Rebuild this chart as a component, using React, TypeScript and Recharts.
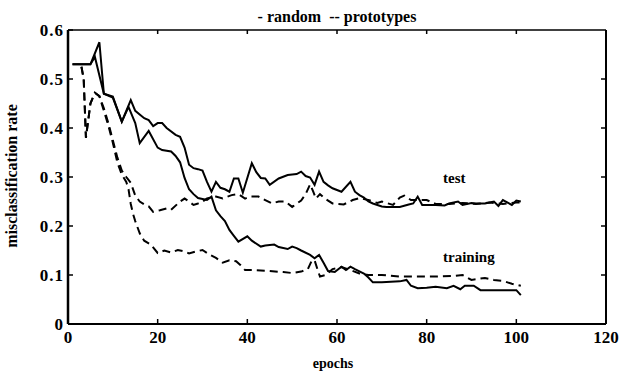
import React from 'react';
import { LineChart, Line, XAxis, YAxis } from 'recharts';

// ---- data ----
const randomTestEpochs = [1, 5, 7, 8, 10, 12, 14, 15, 17, 18, 19, 20, 21, 22, 24, 25, 26, 27, 28, 29, 30, 31, 32, 33, 34, 35, 36, 37, 38, 39, 41, 42, 43, 44, 45, 47, 49, 50, 51, 52, 53, 54, 55, 56, 57, 58, 59, 61, 63, 64, 65, 66, 67, 68, 70, 71, 74, 76, 77, 78, 79, 82, 84, 85, 87, 88, 90, 91, 93, 95, 96, 97, 99, 100, 101];
const randomTestRates = [0.53, 0.53, 0.575, 0.47, 0.464, 0.413, 0.457, 0.435, 0.42, 0.416, 0.404, 0.41, 0.41, 0.4, 0.386, 0.382, 0.36, 0.325, 0.318, 0.316, 0.313, 0.29, 0.27, 0.29, 0.278, 0.275, 0.27, 0.297, 0.297, 0.268, 0.328, 0.31, 0.298, 0.297, 0.284, 0.297, 0.304, 0.305, 0.306, 0.311, 0.302, 0.299, 0.284, 0.311, 0.29, 0.283, 0.277, 0.27, 0.29, 0.27, 0.263, 0.258, 0.25, 0.246, 0.24, 0.239, 0.239, 0.244, 0.246, 0.26, 0.243, 0.243, 0.242, 0.246, 0.25, 0.243, 0.247, 0.246, 0.246, 0.25, 0.241, 0.253, 0.243, 0.252, 0.25];

const randomTrainEpochs = [1, 5, 6, 8, 10, 12, 13.5, 15, 16, 18, 20, 21, 23, 24, 25, 26, 27, 28, 29, 30, 31, 32, 33, 34, 35, 36, 37, 38, 40, 41, 43, 44, 46, 47, 49, 50, 51, 52, 54, 55, 56, 57, 58, 59.5, 61, 62, 63, 64, 66, 67, 68, 70, 74, 75.5, 76.5, 78, 80, 82, 84.5, 86, 87.5, 88.5, 90.5, 92, 99, 100, 101];
const randomTrainRates = [0.53, 0.53, 0.545, 0.47, 0.462, 0.413, 0.443, 0.41, 0.369, 0.394, 0.36, 0.355, 0.352, 0.343, 0.33, 0.298, 0.275, 0.265, 0.257, 0.255, 0.253, 0.26, 0.232, 0.22, 0.21, 0.192, 0.18, 0.168, 0.179, 0.17, 0.158, 0.16, 0.162, 0.157, 0.153, 0.158, 0.155, 0.15, 0.141, 0.134, 0.141, 0.125, 0.108, 0.106, 0.117, 0.11, 0.117, 0.112, 0.103, 0.095, 0.085, 0.085, 0.087, 0.09, 0.078, 0.073, 0.074, 0.076, 0.073, 0.078, 0.071, 0.078, 0.078, 0.069, 0.069, 0.069, 0.059];

const protoTestEpochs = [3, 3.5, 4, 5, 6, 7, 8, 9, 10, 11, 12, 13, 14, 15, 16, 17, 18, 19, 20.5, 22, 23, 25, 26, 27, 28, 29, 30, 31, 33, 34.5, 36.5, 38, 39.5, 40.5, 42.5, 44, 45.5, 47, 48.5, 50, 52, 53, 54, 54.7, 55.3, 56.2, 57.3, 59, 61.5, 63.5, 65, 67, 69, 70, 72.5, 74, 75, 76.5, 78, 80, 82, 85, 88, 91, 94, 97, 100, 101];
const protoTestRates = [0.525, 0.5, 0.38, 0.45, 0.472, 0.465, 0.44, 0.41, 0.375, 0.34, 0.313, 0.3, 0.288, 0.262, 0.25, 0.244, 0.24, 0.229, 0.232, 0.236, 0.233, 0.25, 0.256, 0.25, 0.243, 0.246, 0.25, 0.256, 0.26, 0.256, 0.263, 0.265, 0.256, 0.26, 0.26, 0.253, 0.246, 0.25, 0.25, 0.239, 0.252, 0.265, 0.285, 0.27, 0.256, 0.265, 0.256, 0.246, 0.244, 0.253, 0.257, 0.253, 0.247, 0.25, 0.243, 0.258, 0.262, 0.253, 0.253, 0.253, 0.245, 0.245, 0.247, 0.245, 0.248, 0.245, 0.248, 0.248];

const protoTrainEpochs = [3, 3.5, 4, 5, 6, 7, 8, 9, 10, 11, 12, 13, 13.5, 14, 14.5, 15, 16, 17, 18.5, 20, 21.5, 23, 24.5, 26, 27, 28.5, 30, 31.5, 33, 34.5, 36, 37.5, 38.5, 39.5, 41, 45, 48, 50, 52, 53.5, 54.4, 55, 55.7, 56.2, 57.5, 59, 61, 63, 65, 67, 70, 74, 78, 82, 86, 88, 90, 93, 95, 97, 99, 101];
const protoTrainRates = [0.525, 0.5, 0.38, 0.45, 0.472, 0.465, 0.435, 0.405, 0.37, 0.33, 0.305, 0.29, 0.275, 0.245, 0.225, 0.21, 0.185, 0.17, 0.162, 0.145, 0.15, 0.146, 0.151, 0.148, 0.144, 0.148, 0.151, 0.142, 0.135, 0.125, 0.13, 0.128, 0.12, 0.11, 0.11, 0.108, 0.106, 0.104, 0.107, 0.112, 0.13, 0.13, 0.11, 0.097, 0.1, 0.112, 0.116, 0.11, 0.103, 0.1, 0.1, 0.097, 0.097, 0.097, 0.098, 0.1, 0.09, 0.094, 0.09, 0.088, 0.082, 0.078];

const xTicks = [0, 20, 40, 60, 80, 100, 120];
const yTicks = [0, 0.1, 0.2, 0.3, 0.4, 0.5, 0.6];
const yTickLabels = ['0', '0.1', '0.2', '0.3', '0.4', '0.5', '0.6'];

const titleText = '- random  -- prototypes';
const xLabel = 'epochs';
const yLabel = 'misclassification rate';
const testLabel = 'test';
const trainLabel = 'training';

const build = (e: number[], v: number[]) => e.map((x, i) => ({ epoch: x, rate: v[i] }));
const randomTest = build(randomTestEpochs, randomTestRates);
const randomTrain = build(randomTrainEpochs, randomTrainRates);
const protoTest = build(protoTestEpochs, protoTestRates);
const protoTrain = build(protoTrainEpochs, protoTrainRates);

const FONT = "'Liberation Serif', 'DejaVu Serif', serif";
const fontStyle = { fontFamily: FONT };

const LeftTick = (props: any) => {
  const { x, y, payload, index } = props;
  return (
    <g>
      <line x1={x} x2={x + 5} y1={y} y2={y} stroke="#000" strokeWidth={1.5} />
      <text x={x - 4} y={y} dy={6} textAnchor="end" style={fontStyle} fontWeight="bold" fontSize={17} fill="#000" letterSpacing={1}>
        {yTickLabels[index] ?? String(payload.value)}
      </text>
    </g>
  );
};

const BottomTick = (props: any) => {
  const { x, y, payload } = props;
  return (
    <g>
      <line x1={x} x2={x} y1={y} y2={y - 5} stroke="#000" strokeWidth={1.5} />
      <text x={x} y={y + 19} textAnchor="middle" style={fontStyle} fontWeight="bold" fontSize={17} fill="#000">
        {String(payload.value)}
      </text>
    </g>
  );
};

const TopTick = (props: any) => {
  const { x, y } = props;
  return <line x1={x} x2={x} y1={y} y2={y + 4} stroke="#000" strokeWidth={1.5} />;
};

const RightTick = (props: any) => {
  const { x, y } = props;
  return <line x1={x} x2={x - 5} y1={y} y2={y} stroke="#000" strokeWidth={1.5} />;
};

export default function App() {
  return (
    <div style={{ position: 'absolute', left: 0, top: 0, width: 619, height: 374, background: '#fff' }}>
      <LineChart width={619} height={374} margin={{ top: 29, right: 12, bottom: 20, left: 8 }}>
        <XAxis
          xAxisId="bottom"
          dataKey="epoch"
          type="number"
          domain={[0, 120]}
          ticks={xTicks}
          height={30}
          tickSize={0}
          tickMargin={0}
          tick={<BottomTick />}
          tickLine={false}
          axisLine={{ stroke: '#000', strokeWidth: 2 }}
          interval={0}
        />
        <XAxis
          xAxisId="top"
          orientation="top"
          dataKey="epoch"
          type="number"
          domain={[0, 120]}
          ticks={xTicks.slice(1, 6)}
          height={1}
          tickSize={0}
          tickMargin={0}
          tick={<TopTick />}
          tickLine={false}
          axisLine={{ stroke: '#000', strokeWidth: 1.5 }}
          interval={0}
        />
        <YAxis
          yAxisId="left"
          type="number"
          domain={[0, 0.6]}
          ticks={yTicks}
          width={60}
          tickSize={0}
          tickMargin={0}
          tick={<LeftTick />}
          tickLine={false}
          axisLine={{ stroke: '#000', strokeWidth: 2.5 }}
          interval={0}
        />
        <YAxis
          yAxisId="right"
          orientation="right"
          type="number"
          domain={[0, 0.6]}
          ticks={yTicks.slice(1, 6)}
          width={1}
          tickSize={0}
          tickMargin={0}
          tick={<RightTick />}
          tickLine={false}
          axisLine={{ stroke: '#000', strokeWidth: 2 }}
          interval={0}
        />
        <Line xAxisId="bottom" yAxisId="left" data={randomTest} dataKey="rate" type="linear" stroke="#000" strokeWidth={2} dot={false} isAnimationActive={false} />
        <Line xAxisId="bottom" yAxisId="left" data={randomTrain} dataKey="rate" type="linear" stroke="#000" strokeWidth={2} dot={false} isAnimationActive={false} />
        <Line xAxisId="top" yAxisId="right" data={protoTest} dataKey="rate" type="linear" stroke="#000" strokeWidth={2} strokeDasharray="8 5" dot={false} isAnimationActive={false} />
        <Line xAxisId="bottom" yAxisId="left" data={protoTrain} dataKey="rate" type="linear" stroke="#000" strokeWidth={2} strokeDasharray="8 5" dot={false} isAnimationActive={false} />
        <text x={337} y={22} textAnchor="middle" style={{ ...fontStyle, whiteSpace: 'pre' }} fontWeight="bold" fontSize={16} fill="#000">
          {titleText}
        </text>
        <text x={333} y={368} textAnchor="middle" style={fontStyle} fontWeight="bold" fontSize={14} fill="#000">
          {xLabel}
        </text>
        <text x={17} y={176} textAnchor="middle" style={fontStyle} fontWeight="bold" fontSize={16} fill="#000" transform="rotate(-90 17 176)">
          {yLabel}
        </text>
        <text x={443} y={183} textAnchor="start" style={fontStyle} fontWeight="bold" fontSize={15} fill="#000">
          {testLabel}
        </text>
        <text x={443} y={262} textAnchor="start" style={fontStyle} fontWeight="bold" fontSize={15} fill="#000">
          {trainLabel}
        </text>
      </LineChart>
    </div>
  );
}
